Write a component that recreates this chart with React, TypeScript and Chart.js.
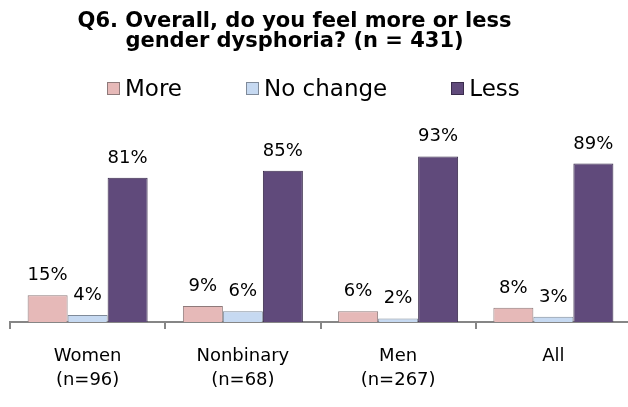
import React, { useEffect, useRef } from "react";
import { Chart, registerables } from "chart.js";

Chart.register(...registerables);

const titleLines = ["Q6. Overall, do you feel more or less", "gender dysphoria? (n = 431)"];
const categories = [["Women", "(n=96)"], ["Nonbinary", "(n=68)"], ["Men", "(n=267)"], ["All", ""]];
const seriesNames = ["More", "No change", "Less"];
const moreValues = [15, 9, 6, 8];
const noChangeValues = [4, 6, 2, 3];
const lessValues = [81, 85, 93, 89];
const fillColors = ["#E6B9B8", "#C6D9F1", "#604A7B"];
const borderColors = ["#8E7A7A", "#7F8A99", "#3A2C4C"];

const FONT = "'DejaVu Sans', Verdana, sans-serif";

const valueLabels = {
  id: "valueLabels",
  afterDatasetsDraw(chart: any) {
    const ctx = chart.ctx;
    ctx.save();
    ctx.font = `18px ${FONT}`;
    ctx.fillStyle = "#000";
    ctx.textAlign = "center";
    ctx.textBaseline = "alphabetic";
    chart.data.datasets.forEach((ds: any, di: number) => {
      const meta = chart.getDatasetMeta(di);
      meta.data.forEach((bar: any, i: number) => {
        ctx.fillText(`${ds.data[i]}%`, bar.x, bar.y - 15);
      });
    });
    ctx.restore();
  },
};

export default function App() {
  const canvasRef = useRef<HTMLCanvasElement | null>(null);

  useEffect(() => {
    if (!canvasRef.current) return;
    const values = [moreValues, noChangeValues, lessValues];
    const chart = new Chart(canvasRef.current, {
      type: "bar",
      data: {
        labels: categories,
        datasets: seriesNames.map((name, k) => ({
          label: name,
          data: values[k],
          backgroundColor: fillColors[k],
          borderColor: borderColors[k],
          borderWidth: 1,
          categoryPercentage: 0.773,
          barPercentage: 1,
        })),
      },
      options: {
        responsive: false,
        animation: false,
        devicePixelRatio: 1,
        layout: { padding: { left: 10, right: 10, top: 144, bottom: 0 } },
        plugins: {
          legend: { display: false },
          title: { display: false },
          tooltip: { enabled: false },
        },
        scales: {
          x: {
            offset: true,
            grid: {
              offset: true,
              drawOnChartArea: false,
              drawTicks: true,
              tickLength: 7,
              tickColor: "#868686",
              lineWidth: 2,
            },
            border: { display: true, color: "#868686", width: 2 },
            ticks: {
              color: "#000",
              padding: 15,
              font: { family: FONT, size: 18, lineHeight: 1.3333 },
            },
          },
          y: {
            display: false,
            min: 0,
            max: 100,
          },
        },
      },
      plugins: [valueLabels],
    });
    return () => chart.destroy();
  }, []);

  return (
    <div
      style={{
        position: "absolute",
        left: 0,
        top: 0,
        width: 628,
        height: 407,
        overflow: "hidden",
        background: "#fff",
        fontFamily: FONT,
      }}
    >
      <canvas ref={canvasRef} width={641} height={407} style={{ position: "absolute", left: 0, top: 0 }} />
      <div
        style={{
          position: "absolute",
          left: 0,
          top: 10,
          width: 589,
          textAlign: "center",
          fontWeight: "bold",
          fontSize: 21,
          lineHeight: "20px",
          color: "#000",
          whiteSpace: "nowrap",
        }}
      >
        {titleLines.map((l, i) => (
          <div key={i}>{l}</div>
        ))}
      </div>
      <div
        style={{
          position: "absolute",
          left: 107,
          top: 74,
          display: "flex",
          alignItems: "center",
          fontSize: 23,
          lineHeight: "28px",
          color: "#000",
          whiteSpace: "nowrap",
        }}
      >
        {seriesNames.map((name, k) => (
          <div key={name} style={{ display: "flex", alignItems: "center", marginRight: 64 }}>
            <span
              style={{
                display: "inline-block",
                width: 11,
                height: 11,
                background: fillColors[k],
                border: `1px solid ${borderColors[k]}`,
                marginRight: 5,
              }}
            />
            <span>{name}</span>
          </div>
        ))}
      </div>
    </div>
  );
}
